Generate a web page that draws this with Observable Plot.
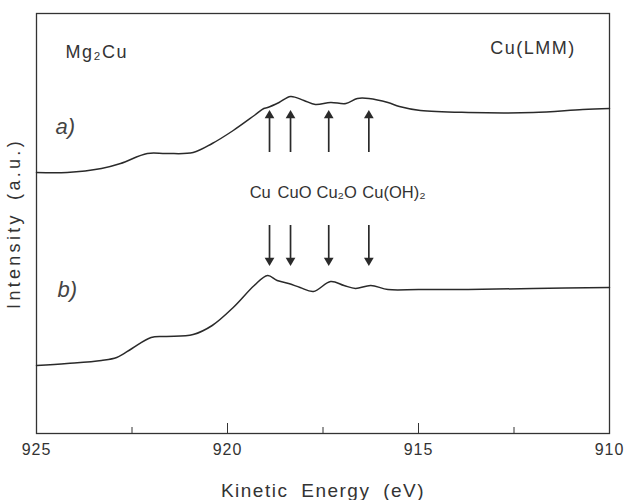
<!DOCTYPE html>
<html>
<head>
<meta charset="utf-8">
<script src="https://cdn.jsdelivr.net/npm/d3@7"></script>
<script src="https://cdn.jsdelivr.net/npm/@observablehq/plot@0.6"></script>
<style>
  body { margin: 0; background: #fff; }
  g[aria-label="x-axis tick label"] text { letter-spacing: 1px; }
  g[aria-label="x-axis label"] text { letter-spacing: 1.5px; word-spacing: 6px; }
  g[aria-label="y-axis label"] text { letter-spacing: 3.3px; word-spacing: 4px; }
  g[aria-description="titles"] text { letter-spacing: 1.5px; }
</style>
</head>
<body>
<div id="chart"></div>
<script>
// Spectrum a) — kinetic energy (eV) and intensity (a.u.)
const energyA = [925.0, 924.2, 923.3, 922.8, 922.1, 921.6, 920.9, 920.4, 919.85, 919.3, 919.05, 918.95, 918.65, 918.35, 918.0, 917.7, 917.3, 916.9, 916.6, 916.3, 915.8, 915.5, 914.95, 913.7, 912.0, 910.7, 910.0];
const intensityA = [261, 261, 265, 270, 280, 280, 281, 290, 303, 318, 325, 326, 331, 337, 333, 329, 331, 330, 335, 335, 331, 327, 323, 321, 321, 324, 325];

// Spectrum b)
const energyB = [925.0, 924.2, 923.3, 922.9, 922.5, 922.0, 921.6, 920.9, 920.4, 919.85, 919.3, 918.95, 918.7, 918.4, 918.1, 917.75, 917.3, 916.95, 916.65, 916.25, 915.8, 915.0, 913.7, 912.0, 910.0];
const intensityB = [68, 70, 73, 76, 85, 96, 97, 99, 108, 126, 148, 158, 153, 150, 146, 142, 152, 148, 145, 148, 144, 144, 144, 145, 146];

// Reference species (arrows) and their labels (label = left edge of the text)
const speciesNames = ["Cu", "CuO", "Cu₂O", "Cu(OH)₂"];
const speciesEnergy = [918.9, 918.35, 917.35, 916.3];
const speciesLabelEnergy = [919.42, 918.69, 917.67, 916.47];

// Axis ticks
const majorTicks = [925, 920, 915, 910];
const minorTicks = [922.5, 917.5, 912.5];

// Text annotations
const titleTexts = ["Mg₂Cu", "Cu(LMM)"];
const titleEnergy = [924.24, 913.12];
const titleIntensity = [376, 380];
const curveTags = ["a)", "b)"];
const curveTagEnergy = [924.5, 924.45];
const curveTagIntensity = [300, 137];

const seriesA = energyA.map((e, i) => ({e, v: intensityA[i]}));
const seriesB = energyB.map((e, i) => ({e, v: intensityB[i]}));
const upArrows = speciesEnergy.map(e => ({e, from: 281, to: 319, tip: 323}));
const downArrows = speciesEnergy.map(e => ({e, from: 208, to: 172, tip: 168}));

const ink = "#2a2a2a";
const font = "'Liberation Sans', Arial, Helvetica, sans-serif";

const chart = Plot.plot({
  width: 625,
  height: 500,
  marginLeft: 36,
  marginRight: 16,
  marginTop: 13,
  marginBottom: 67,
  x: {domain: [925, 910]},
  y: {domain: [0, 420]},
  style: {fontFamily: font, background: "#fff", color: "#333", overflow: "visible"},
  marks: [
    Plot.frame({stroke: "#333", strokeWidth: 1.3}),
    Plot.axisX({
      ticks: majorTicks, tickSize: -10, tickPadding: 20, tickFormat: d3.format("d"),
      fontSize: 16, stroke: "#333", label: null
    }),
    Plot.axisX({ticks: minorTicks, tickSize: -6, tickFormat: () => "", stroke: "#333", label: null}),
    Plot.axisX({
      ticks: [], tickSize: 0, fontSize: 19, label: "Kinetic Energy (eV)", labelAnchor: "center",
      labelOffset: 63, labelArrow: "none"
    }),
    Plot.axisY({
      ticks: [], tickSize: 0, label: "Intensity (a.u.)", labelAnchor: "center",
      labelOffset: 29, fontSize: 18, labelArrow: "none"
    }),
    Plot.line(seriesA, {x: "e", y: "v", stroke: ink, strokeWidth: 1.5, curve: "catmull-rom"}),
    Plot.line(seriesB, {x: "e", y: "v", stroke: ink, strokeWidth: 1.5, curve: "catmull-rom"}),
    Plot.ruleX(upArrows, {x: "e", y1: "from", y2: "to", stroke: ink, strokeWidth: 1.7}),
    Plot.dot(upArrows, {x: "e", y: "tip", symbol: "triangle", r: 3.6, fill: ink, stroke: null, dy: 5}),
    Plot.ruleX(downArrows, {x: "e", y1: "from", y2: "to", stroke: ink, strokeWidth: 1.7}),
    Plot.dot(downArrows, {x: "e", y: "tip", symbol: "triangle", r: 3.6, fill: ink, stroke: null, rotate: 180, dy: -5}),
    Plot.text(speciesNames, {
      x: (d, i) => speciesLabelEnergy[i], y: () => 236, text: d => d,
      fontSize: 16.5, fill: "#333", lineAnchor: "bottom", textAnchor: "start",
      ariaDescription: "species"
    }),
    Plot.text(titleTexts, {
      x: (d, i) => titleEnergy[i], y: (d, i) => titleIntensity[i], text: d => d,
      fontSize: 18, fill: "#333", lineAnchor: "bottom", textAnchor: "start",
      ariaDescription: "titles"
    }),
    Plot.text(curveTags, {
      x: (d, i) => curveTagEnergy[i], y: (d, i) => curveTagIntensity[i], text: d => d,
      fontSize: 22, fontStyle: "italic", fill: "#444", lineAnchor: "bottom", textAnchor: "start"
    })
  ]
});

document.getElementById("chart").appendChild(chart);
</script>
</body>
</html>
